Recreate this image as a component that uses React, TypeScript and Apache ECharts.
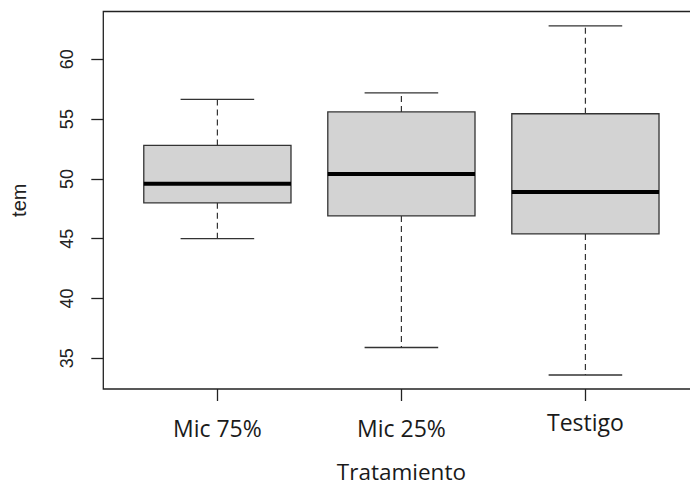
import React, { useEffect, useRef } from "react";
import * as echarts from "echarts";

const categories = ["Mic 75%", "Mic 25%", "Testigo"];
const whiskerLow = [45.0, 35.9, 33.6];
const quartile1 = [48.0, 46.9, 45.4];
const medians = [49.6, 50.4, 48.9];
const quartile3 = [52.8, 55.6, 55.45];
const whiskerHigh = [56.65, 57.2, 62.8];
const yTicks = [35, 40, 45, 50, 55, 60];
const xTicks = [1, 2, 3];

export default function App() {
  const ref = useRef<HTMLDivElement>(null);
  useEffect(() => {
    if (!ref.current) return;
    const chart = echarts.init(ref.current, undefined, { renderer: "svg" });
    const data = categories.map((_, i) => [
      i + 1,
      whiskerLow[i],
      quartile1[i],
      medians[i],
      quartile3[i],
      whiskerHigh[i],
    ]);
    const lineCol = "#333333";
    chart.setOption({
      animation: false,
      backgroundColor: "#ffffff",
      grid: {
        left: 103.3,
        top: 11.5,
        right: -9.5,
        bottom: 96,
        show: true,
        containLabel: false,
        outerBoundsMode: "none",
        borderColor: "#222222",
        borderWidth: 1.3,
        backgroundColor: "transparent",
      },
      xAxis: {
        type: "value",
        min: 0.38,
        max: 3.62,
        name: "Tratamiento",
        nameLocation: "middle",
        nameGap: 71,
        nameTextStyle: {
          fontFamily: "Open Sans",
          fontSize: 22.5,
          color: "#1a1a1a",
          lineHeight: 22,
        },
        splitLine: { show: false },
        axisLine: { show: false },
        axisTick: {
          show: true,
          length: 12,
          customValues: xTicks,
          lineStyle: { color: "#222222", width: 1.3 },
        },
        axisLabel: {
          customValues: xTicks,
          margin: 24,
          formatter: (v: number) => {
            const name = categories[Math.round(v) - 1] ?? "";
            return /[gjpqy]/.test(name) ? `{d|${name}}` : `{n|${name}}`;
          },
          rich: {
            n: { fontFamily: "Open Sans", fontSize: 23, color: "#1a1a1a", lineHeight: 30 },
            d: { fontFamily: "Open Sans", fontSize: 23, color: "#1a1a1a", lineHeight: 18 },
          },
        },
      },
      yAxis: {
        type: "value",
        min: 32.43,
        max: 64.0,
        name: "tem",
        nameLocation: "middle",
        nameGap: 74,
        nameTextStyle: {
          fontFamily: "Liberation Sans",
          fontSize: 20,
          color: "#222222",
        },
        splitLine: { show: false },
        axisLine: { show: false },
        axisTick: {
          show: true,
          length: 12,
          customValues: yTicks,
          lineStyle: { color: "#222222", width: 1.3 },
        },
        axisLabel: {
          customValues: yTicks,
          rotate: 90,
          margin: 27,
          fontFamily: "Liberation Sans",
          fontSize: 18,
          color: "#222222",
        },
      },
      series: [
        {
          type: "custom",
          data,
          encode: { x: 0, y: [1, 2, 3, 4, 5] },
          renderItem: (params: any, api: any) => {
            const x = api.value(0);
            const pLow = api.coord([x, api.value(1)]);
            const pQ1 = api.coord([x, api.value(2)]);
            const pMed = api.coord([x, api.value(3)]);
            const pQ3 = api.coord([x, api.value(4)]);
            const pHigh = api.coord([x, api.value(5)]);
            const half = api.size([0.4, 0])[0];
            const capHalf = api.size([0.2, 0])[0];
            const cx = pMed[0];
            const dashStyle = {
              stroke: lineCol,
              lineWidth: 1.2,
              lineDash: [6, 4],
            };
            const solid = { stroke: lineCol, lineWidth: 1.3 };
            return {
              type: "group",
              children: [
                {
                  type: "line",
                  shape: { x1: cx, y1: pQ3[1], x2: cx, y2: pHigh[1] },
                  style: dashStyle,
                },
                {
                  type: "line",
                  shape: { x1: cx, y1: pQ1[1], x2: cx, y2: pLow[1] },
                  style: dashStyle,
                },
                {
                  type: "line",
                  shape: { x1: cx - capHalf, y1: pHigh[1], x2: cx + capHalf, y2: pHigh[1] },
                  style: solid,
                },
                {
                  type: "line",
                  shape: { x1: cx - capHalf, y1: pLow[1], x2: cx + capHalf, y2: pLow[1] },
                  style: solid,
                },
                {
                  type: "rect",
                  shape: {
                    x: cx - half,
                    y: pQ3[1],
                    width: half * 2,
                    height: pQ1[1] - pQ3[1],
                  },
                  style: { fill: "#d3d3d3", stroke: lineCol, lineWidth: 1.3 },
                },
                {
                  type: "line",
                  shape: { x1: cx - half, y1: pMed[1], x2: cx + half, y2: pMed[1] },
                  style: { stroke: "#000000", lineWidth: 4 },
                },
              ],
            };
          },
        },
      ],
    });
    return () => chart.dispose();
  }, []);
  return (
    <div
      ref={ref}
      style={{ position: "absolute", left: 0, top: 0, width: 690, height: 485 }}
    />
  );
}
